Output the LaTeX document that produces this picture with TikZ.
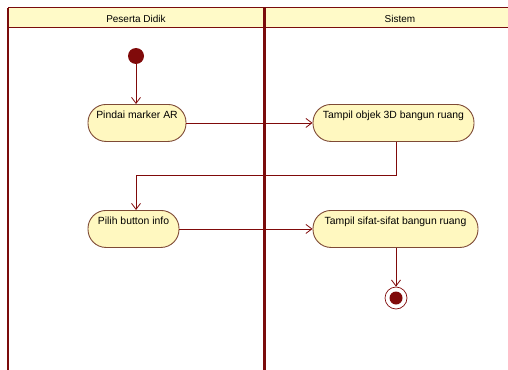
\documentclass[tikz,border=0pt]{standalone}
\usepackage{fontspec}
\setmainfont{Liberation Sans}
\usetikzlibrary{arrows.meta}
\definecolor{lane}{HTML}{7A0C0C}
\definecolor{headfill}{HTML}{FFFAC8}
\definecolor{actfill}{HTML}{FFF8C0}
\definecolor{actline}{HTML}{7E4A36}
\definecolor{flow}{HTML}{800A0A}
\tikzset{
  activity/.style={draw=actline, fill=actfill, line width=0.9pt,
    rounded corners=18pt, inner xsep=0pt, inner ysep=0pt,
    text height=14.5pt, text depth=22.5pt, font=\fontsize{10.4}{12}\selectfont},
  flowline/.style={draw=flow, line width=0.9pt,
    -{Straight Barb[length=6pt,width=9pt,line width=0.8pt]}},
  lanehead/.style={font=\fontsize{10}{12}\selectfont},
}
\begin{document}
\begin{tikzpicture}[x=1pt,y=-1pt]
  \useasboundingbox (0,0) rectangle (508,369);
  \begin{scope}
    \clip (0,0) rectangle (508,369);
    % swimlane header band
    \fill[headfill] (8,8) rectangle (515,28);
    \draw[lane, line width=1pt] (8,8) -- (515,8);
    \draw[lane, line width=1pt] (8,28) -- (515,28);
    % lane borders
    \draw[lane, line width=1.6pt] (8,8) -- (8,372);
    \draw[lane, line width=3pt] (264,8) -- (264,372);
  \end{scope}
  \node[lanehead] (laneA) at (136,18.5) {Peserta Didik};
  \node[lanehead] (laneB) at (400,18.5) {Sistem};

  % start and end states
  \node[circle, fill=flow, minimum size=16pt, inner sep=0pt] (start) at (136,56) {};
  \node[circle, draw=flow, fill=white, line width=0.7pt, minimum size=22pt, inner sep=0pt] (final) at (396,298) {};
  \node[circle, fill=flow, minimum size=13pt, inner sep=0pt] (finaldot) at (396,298) {};

  % activities
  \node[activity, minimum width=98pt, anchor=north] (pindai) at (137,104) {Pindai marker AR};
  \node[activity, minimum width=161pt, anchor=north] (objek) at (393.5,104) {Tampil objek 3D bangun ruang};
  \node[activity, minimum width=91pt, anchor=north] (pilih) at (133.5,210) {Pilih button info};
  \node[activity, minimum width=165pt, anchor=north] (sifat) at (395.5,210) {Tampil sifat-sifat bangun ruang};

  % control flows
  \coordinate (bendA) at (396,175);
  \coordinate (bendB) at (136,175);
  \draw[flowline] (start) -- (start |- pindai.north);
  \draw[flowline] (pindai.east) -- (objek.west);
  \draw[flowline] (bendA |- objek.south) -- (bendA) -- (bendB) -- (bendB |- pilih.north);
  \draw[flowline] (pilih.east) -- (pilih.east -| sifat.west);
  \draw[flowline] (final |- sifat.south) -- (final.north);
\end{tikzpicture}
\end{document}
